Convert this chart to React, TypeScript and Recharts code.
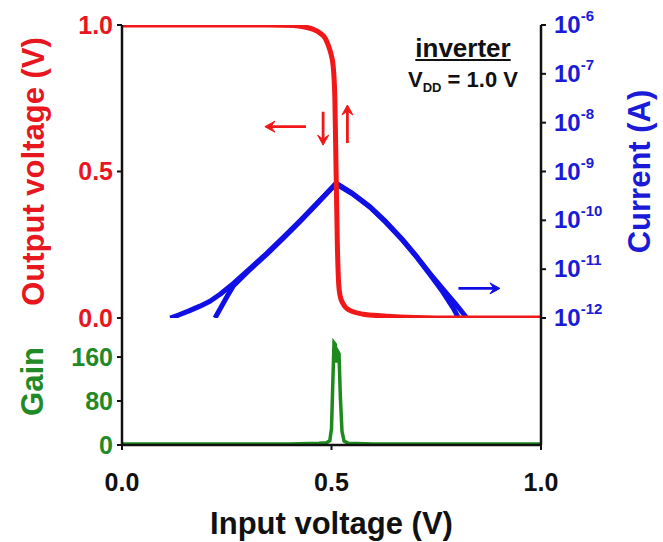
import React from 'react';
import { LineChart, Line, XAxis, YAxis, ReferenceLine } from 'recharts';

// ---------- data ----------
const xTicks = [0, 0.5, 1];
const voltTicks = [0, 0.5, 1];
const currentTicks = [1e-12, 1e-11, 1e-10, 1e-9, 1e-8, 1e-7, 1e-6];
const gainTicks = [0, 80, 160];

// output voltage (V) vs input voltage (V)
const vtc = [
  { x: 0, v: 1 }, { x: 0.2, v: 1 }, { x: 0.35, v: 1 }, { x: 0.41, v: 0.998 },
  { x: 0.433, v: 0.994 }, { x: 0.455, v: 0.986 }, { x: 0.473, v: 0.972 },
  { x: 0.485, v: 0.955 }, { x: 0.492, v: 0.932 }, { x: 0.499, v: 0.9 },
  { x: 0.504, v: 0.86 }, { x: 0.508, v: 0.75 }, { x: 0.511, v: 0.5 },
  { x: 0.514, v: 0.25 }, { x: 0.517, v: 0.12 }, { x: 0.52, v: 0.08 },
  { x: 0.527, v: 0.05 }, { x: 0.536, v: 0.033 }, { x: 0.55, v: 0.022 },
  { x: 0.576, v: 0.013 }, { x: 0.6, v: 0.009 }, { x: 0.632, v: 0.006 },
  { x: 0.7, v: 0.002 }, { x: 0.8, v: 0 }, { x: 1, v: 0 },
];

// supply current (A), forward and reverse sweeps
const currentFwd = [
  { x: 0.115, i: 1e-12 }, { x: 0.135, i: 1.15e-12 }, { x: 0.16, i: 1.4e-12 },
  { x: 0.186, i: 1.75e-12 }, { x: 0.21, i: 2.2e-12 }, { x: 0.235, i: 3.1e-12 },
  { x: 0.266, i: 5.13e-12 }, { x: 0.3, i: 9.3e-12 }, { x: 0.345, i: 2.09e-11 },
  { x: 0.385, i: 4.47e-11 }, { x: 0.425, i: 9.8e-11 }, { x: 0.47, i: 2.45e-10 },
  { x: 0.512, i: 5.75e-10 }, { x: 0.55, i: 3.55e-10 }, { x: 0.592, i: 1.9e-10 },
  { x: 0.63, i: 9.3e-11 }, { x: 0.671, i: 3.9e-11 }, { x: 0.705, i: 1.74e-11 },
  { x: 0.735, i: 8.1e-12 }, { x: 0.765, i: 3.98e-12 }, { x: 0.795, i: 2.0e-12 },
  { x: 0.823, i: 1e-12 },
];
const currentRev = [
  { x: 0.222, i: 1e-12 }, { x: 0.235, i: 1.58e-12 }, { x: 0.25, i: 2.69e-12 },
  { x: 0.266, i: 4.6e-12 }, { x: 0.3, i: 8.9e-12 }, { x: 0.345, i: 2.0e-11 },
  { x: 0.385, i: 4.3e-11 }, { x: 0.425, i: 9.5e-11 }, { x: 0.47, i: 2.4e-10 },
  { x: 0.51, i: 5.6e-10 }, { x: 0.55, i: 3.5e-10 }, { x: 0.592, i: 1.85e-10 },
  { x: 0.63, i: 9.0e-11 }, { x: 0.671, i: 3.8e-11 }, { x: 0.705, i: 1.7e-11 },
  { x: 0.735, i: 7.8e-12 }, { x: 0.765, i: 3.47e-12 }, { x: 0.791, i: 1.58e-12 },
  { x: 0.803, i: 1e-12 },
];

// voltage gain
const gain = [
  { x: 0, g: 2 }, { x: 0.1, g: 2 }, { x: 0.2, g: 2 }, { x: 0.3, g: 2 },
  { x: 0.4, g: 2 }, { x: 0.47, g: 3 }, { x: 0.488, g: 4 }, { x: 0.496, g: 8 },
  { x: 0.5, g: 30 }, { x: 0.503, g: 110 }, { x: 0.506, g: 186 },
  { x: 0.509, g: 183 }, { x: 0.512, g: 150 }, { x: 0.515, g: 170 },
  { x: 0.518, g: 166 }, { x: 0.521, g: 90 }, { x: 0.525, g: 25 },
  { x: 0.53, g: 7 }, { x: 0.54, g: 3 }, { x: 0.6, g: 2 }, { x: 0.8, g: 2 },
  { x: 1, g: 2 },
];

// annotation arrows (data units: input V, output V)
const arrowLeft = [{ x: 0.341, y: 0.653 }, { x: 0.439, y: 0.653 }];
const arrowDown = [{ x: 0.48, y: 0.704 }, { x: 0.48, y: 0.59 }];
const arrowUp = [{ x: 0.538, y: 0.597 }, { x: 0.538, y: 0.727 }];
const arrowRight = [{ x: 0.803, y: 0.101 }, { x: 0.902, y: 0.101 }];

// ---------- styles ----------
const FONT = '"Liberation Sans", Arial, sans-serif';
const RED = '#f01818';
const RED_TXT = '#e8161e';
const BLUE = '#1010e6';
const BLUE_TXT = '#1a1ad8';
const GREEN = '#1e8a1e';
const GREEN_TXT = '#1f8a26';
const AXIS = '#111';

const makeArrow = (dir: string, color: string) => (p: any) => {
  const { x1, y1, x2, y2 } = p;
  const h = 10;
  const w = 5.5;
  if (dir === 'left' || dir === 'right') {
    const a = Math.min(x1, x2);
    const b = Math.max(x1, x2);
    const y = y1;
    const hx = dir === 'left' ? a : b;
    const s = dir === 'left' ? 1 : -1;
    return (
      <g>
        <line x1={a + (dir === 'left' ? 3 : 0)} y1={y} x2={b - (dir === 'right' ? 3 : 0)} y2={y} stroke={color} strokeWidth={2.8} />
        <polygon points={`${hx + s * h},${y - w} ${hx},${y} ${hx + s * h},${y + w} ${hx + s * h * 0.6},${y}`} fill={color} stroke={color} strokeWidth={1} />
      </g>
    );
  }
  const a = Math.min(y1, y2);
  const b = Math.max(y1, y2);
  const x = x1;
  const hy = dir === 'up' ? a : b;
  const s = dir === 'up' ? 1 : -1;
  return (
    <g>
      <line x1={x} y1={a + (dir === 'up' ? 3 : 0)} x2={x} y2={b - (dir === 'down' ? 3 : 0)} stroke={color} strokeWidth={2.8} />
      <polygon points={`${x - w},${hy + s * h} ${x},${hy} ${x + w},${hy + s * h} ${x},${hy + s * h * 0.6}`} fill={color} stroke={color} strokeWidth={1} />
    </g>
  );
};

const CurrentTick = (props: any) => {
  const { x, y, payload } = props;
  const exp = Math.round(Math.log10(payload.value));
  return (
    <text x={x} y={y} dy={8} fill={BLUE_TXT} fontFamily={FONT} fontWeight="bold" textAnchor="start">
      <tspan fontSize={24}>10</tspan>
      <tspan fontSize={15} dy={-12}>{String(exp)}</tspan>
    </text>
  );
};

const RotLabel = (text: string, color: string, cx: number, size: number) => (props: any) => {
  const vb = props.viewBox;
  const x = vb.x + cx;
  const y = vb.y + vb.height / 2;
  return (
    <text x={x} y={y} transform={`rotate(-90, ${x}, ${y})`} textAnchor="middle" dominantBaseline="central"
      fill={color} fontFamily={FONT} fontWeight="bold" fontSize={size}>
      {text}
    </text>
  );
};

const tickStyle = (color: string, size: number) => ({ fill: color, fontSize: size, fontWeight: 'bold', fontFamily: FONT });

export default function App() {
  return (
    <div style={{ position: 'absolute', left: 0, top: 0, width: 663, height: 542, background: '#fff', overflow: 'hidden' }}>
      {/* bottom panel: gain */}
      <div style={{ position: 'absolute', left: 0, top: 300 }}>
        <LineChart width={663} height={242} margin={{ top: 18, right: 0, bottom: 0, left: 0 }}>
          <XAxis type="number" dataKey="x" domain={[0, 1]} ticks={xTicks} allowDataOverflow interval={0}
            tickFormatter={(v: number) => v.toFixed(1)} height={97}
            tick={tickStyle('#111', 25)} tickSize={5} tickMargin={23}
            axisLine={{ stroke: AXIS, strokeWidth: 2.5 }} tickLine={{ stroke: AXIS, strokeWidth: 2 }}
            label={{ value: 'Input voltage (V)', position: 'insideBottom', offset: 8, fill: '#111', fontSize: 31, fontWeight: 'bold', fontFamily: FONT }} />
          <YAxis yAxisId="g" orientation="left" width={122} domain={[0, 231]} ticks={gainTicks} allowDataOverflow interval={0}
            tick={tickStyle(GREEN_TXT, 25)} tickSize={5} tickMargin={4}
            axisLine={{ stroke: AXIS, strokeWidth: 2.5 }} tickLine={{ stroke: AXIS, strokeWidth: 2 }}
            label={{ content: RotLabel('Gain', GREEN_TXT, 32, 31) }} />
          <YAxis yAxisId="r" orientation="right" width={122} domain={[0, 1]} tick={false}
            axisLine={{ stroke: AXIS, strokeWidth: 2.5 }} tickLine={false} />
          <Line yAxisId="g" data={gain} dataKey="g" type="linear" stroke={GREEN} strokeWidth={3.5} dot={false} isAnimationActive={false} />
        </LineChart>
      </div>
      {/* top panel: VTC + current */}
      <div style={{ position: 'absolute', left: 0, top: 0 }}>
        <LineChart width={663} height={345} margin={{ top: 25, right: 0, bottom: 27, left: 0 }}>
          <XAxis type="number" dataKey="x" domain={[0, 1]} ticks={xTicks} tick={false} height={0}
            axisLine={{ stroke: AXIS, strokeWidth: 2.5 }} tickLine={false} />
          <XAxis xAxisId="top" orientation="top" type="number" dataKey="x" domain={[0, 1]} tick={false} height={0}
            axisLine={{ stroke: AXIS, strokeWidth: 2.5 }} tickLine={false} />
          <YAxis yAxisId="v" orientation="left" width={122} domain={[0, 1]} ticks={voltTicks} allowDataOverflow interval={0}
            tickFormatter={(v: number) => v.toFixed(1)}
            tick={tickStyle(RED_TXT, 25)} tickSize={5} tickMargin={4}
            axisLine={{ stroke: AXIS, strokeWidth: 2.5 }} tickLine={{ stroke: AXIS, strokeWidth: 2 }}
            label={{ content: RotLabel('Output voltage (V)', RED_TXT, 33, 31) }} />
          <YAxis yAxisId="i" orientation="right" width={122} scale="log" domain={[1e-12, 1e-6]} ticks={currentTicks} allowDataOverflow interval={0}
            tick={<CurrentTick />} tickSize={5} tickMargin={8}
            axisLine={{ stroke: AXIS, strokeWidth: 2.5 }} tickLine={{ stroke: AXIS, strokeWidth: 2 }}
            label={{ content: RotLabel('Current (A)', BLUE_TXT, 98, 31) }} />
          <Line yAxisId="i" data={currentFwd} dataKey="i" type="linear" stroke={BLUE} strokeWidth={5} strokeLinejoin="round" dot={false} isAnimationActive={false} />
          <Line yAxisId="i" data={currentRev} dataKey="i" type="linear" stroke={BLUE} strokeWidth={5} strokeLinejoin="round" dot={false} isAnimationActive={false} />
          <Line yAxisId="v" data={vtc} dataKey="v" type="monotone" stroke={RED} strokeWidth={5} dot={false} isAnimationActive={false} />
          <ReferenceLine yAxisId="v" segment={arrowLeft} ifOverflow="visible" shape={makeArrow('left', RED)} />
          <ReferenceLine yAxisId="v" segment={arrowDown} ifOverflow="visible" shape={makeArrow('down', RED)} />
          <ReferenceLine yAxisId="v" segment={arrowUp} ifOverflow="visible" shape={makeArrow('up', RED)} />
          <ReferenceLine yAxisId="v" segment={arrowRight} ifOverflow="visible" shape={makeArrow('right', BLUE)} />
        </LineChart>
      </div>
      <div style={{ position: 'absolute', left: 393, top: 34, width: 140, textAlign: 'center', fontFamily: FONT, fontWeight: 'bold', fontSize: 26, color: '#111', textDecoration: 'underline', lineHeight: '28px' }}>
        inverter
      </div>
      <div style={{ position: 'absolute', left: 388, top: 66, width: 150, textAlign: 'center', fontFamily: FONT, fontWeight: 'bold', fontSize: 22, color: '#111', lineHeight: '28px', whiteSpace: 'nowrap' }}>
        V<sub style={{ fontSize: 13 }}>DD</sub> = 1.0 V
      </div>
    </div>
  );
}
